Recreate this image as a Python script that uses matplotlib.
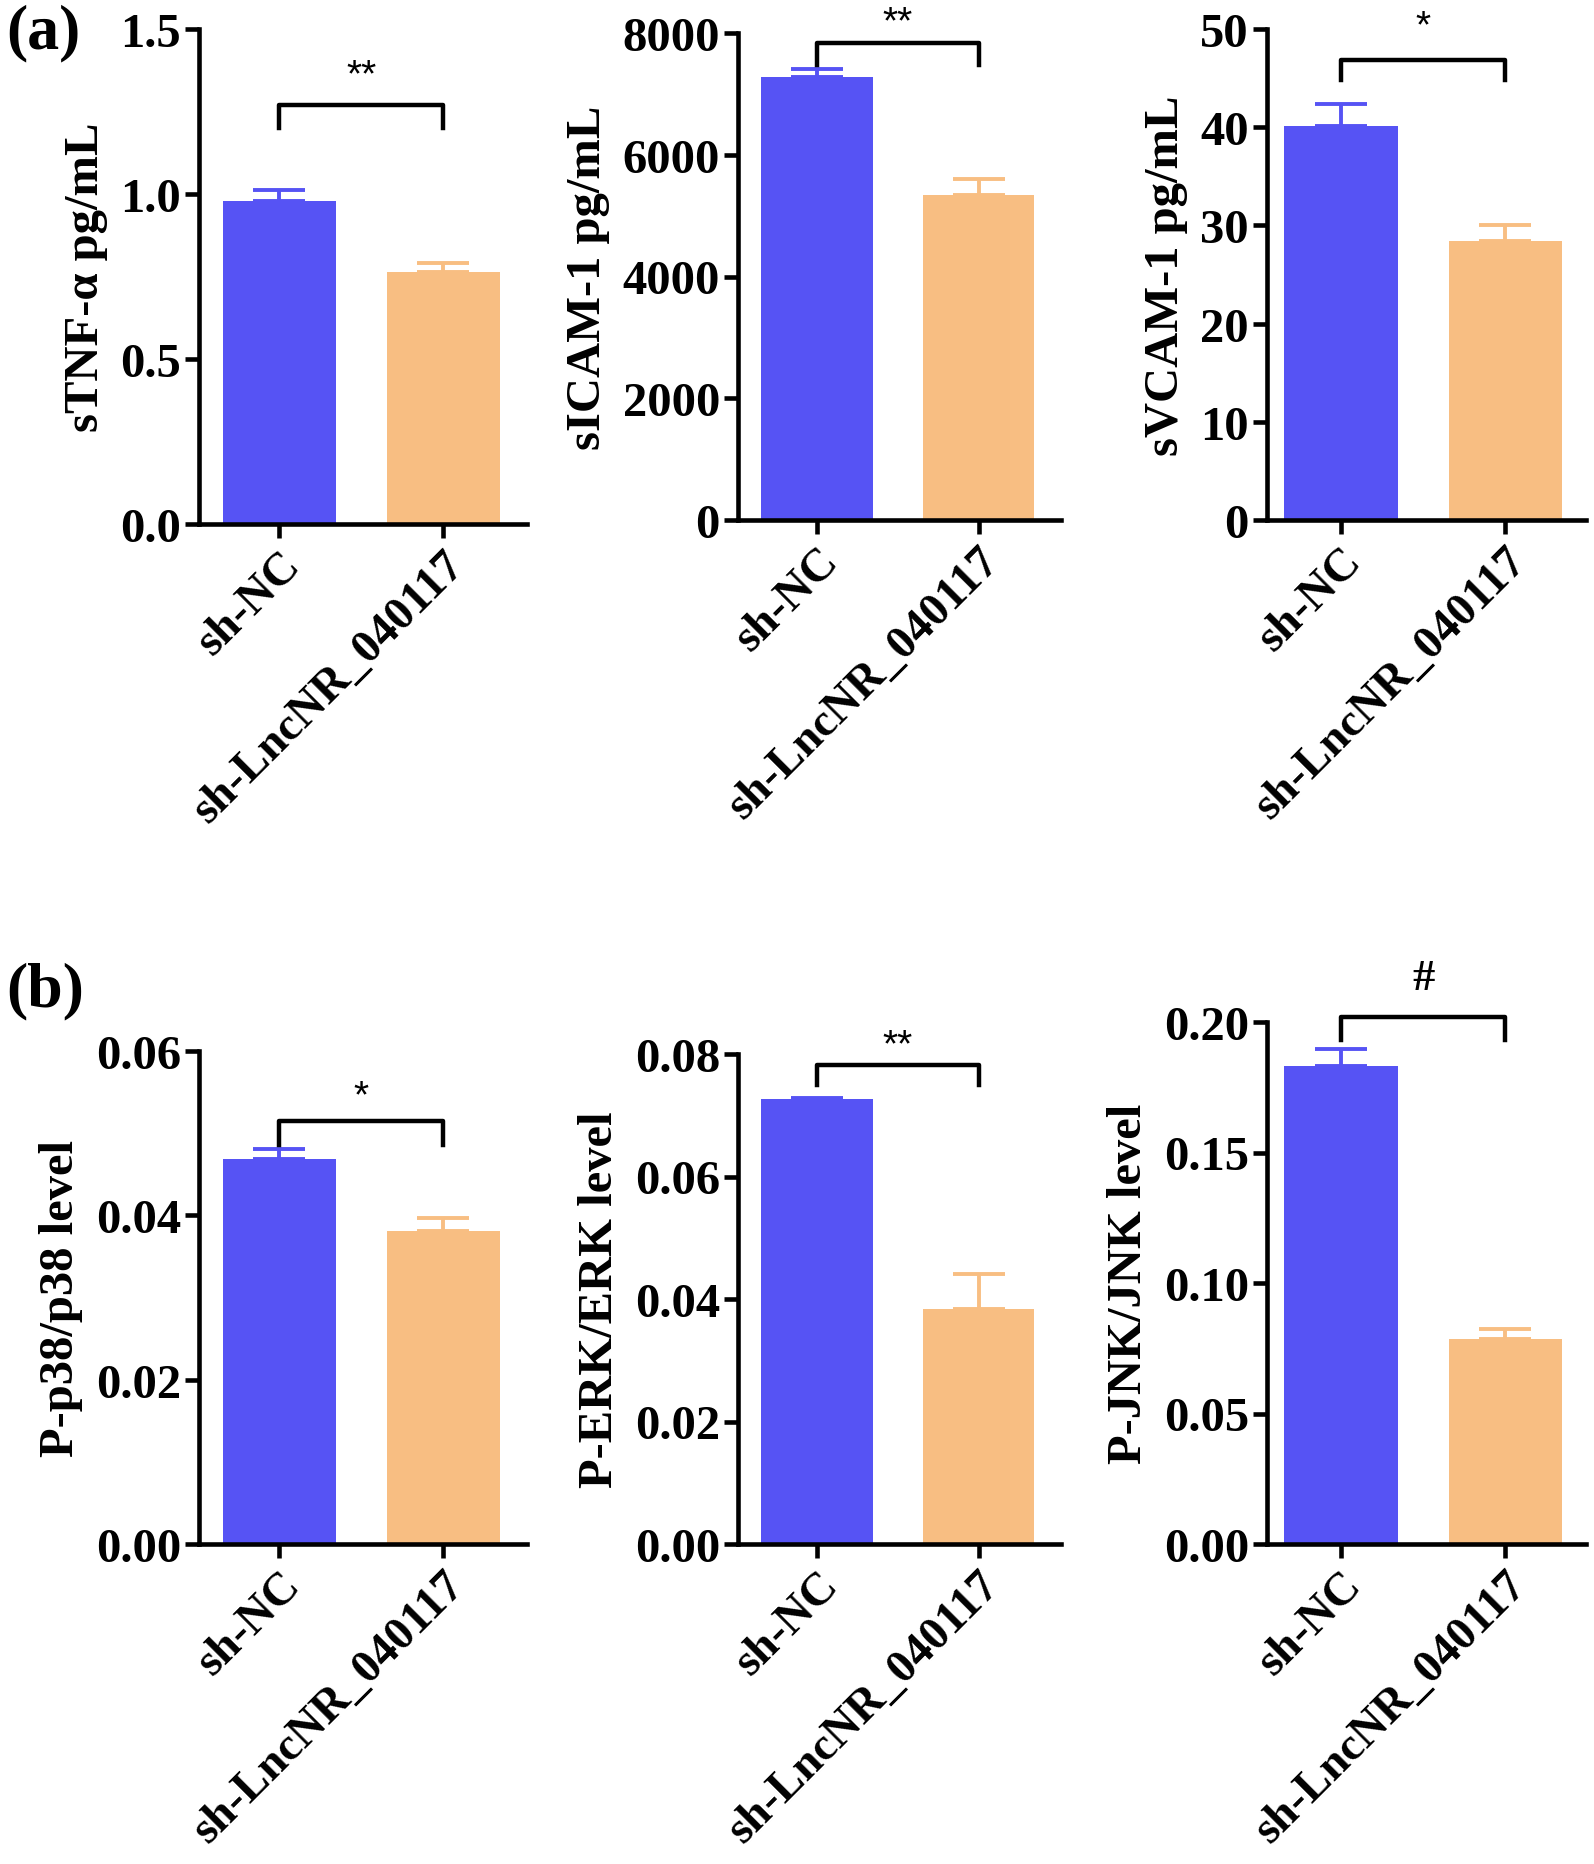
import matplotlib
matplotlib.use('Agg')
import matplotlib.pyplot as plt
import numpy as np

plt.rcParams['font.family'] = ['Liberation Serif', 'DejaVu Serif']
plt.rcParams['font.weight'] = 'bold'

groups = ['sh-NC', 'sh-LncNR_040117']
colors = ['#5653F4', '#F8BE82']

ylabels = ['sTNF-α pg/mL', 'sICAM-1 pg/mL', 'sVCAM-1 pg/mL',
           'P-p38/p38 level', 'P-ERK/ERK level', 'P-JNK/JNK level']

# bar means (sh-NC, sh-LncNR_040117)
tnf_mean = [0.98, 0.765]
icam_mean = [7270, 5340]
vcam_mean = [40.1, 28.4]
p38_mean = [0.0469, 0.0381]
erk_mean = [0.0726, 0.0383]
jnk_mean = [0.1831, 0.0786]

# upper error (SD)
tnf_err = [0.033, 0.025]
icam_err = [140, 260]
vcam_err = [2.3, 1.6]
p38_err = [0.0012, 0.0016]
erk_err = [0.0002, 0.0058]
jnk_err = [0.0064, 0.0036]

# axis ranges / ticks
ymax = [1.5, 8000, 50, 0.06, 0.08, 0.20]
yticks = [[0.0, 0.5, 1.0, 1.5],
          [0, 2000, 4000, 6000, 8000],
          [0, 10, 20, 30, 40, 50],
          [0.00, 0.02, 0.04, 0.06],
          [0.00, 0.02, 0.04, 0.06, 0.08],
          [0.00, 0.05, 0.10, 0.15, 0.20]]
ytick_labels = [['0.0', '0.5', '1.0', '1.5'],
                ['0', '2000', '4000', '6000', '8000'],
                ['0', '10', '20', '30', '40', '50'],
                ['0.00', '0.02', '0.04', '0.06'],
                ['0.00', '0.02', '0.04', '0.06', '0.08'],
                ['0.00', '0.05', '0.10', '0.15', '0.20']]

# significance brackets
sig_text = ['**', '**', '*', '*', '**', '#']
bracket_top = [1.27, 7840, 46.8, 0.0515, 0.0782, 0.2018]
bracket_leg = [1.20, 7470, 44.8, 0.0486, 0.0749, 0.193]
sig_y = [1.36, 8170, 50.3, 0.0545, 0.0814, 0.217]

means = [tnf_mean, icam_mean, vcam_mean, p38_mean, erk_mean, jnk_mean]
errs = [tnf_err, icam_err, vcam_err, p38_err, erk_err, jnk_err]

W, H = 1594, 1865
# axes rects in pixels: left, right, top, bottom
rects_px = [(199, 527, 30, 525), (738, 1061, 34, 521), (1267, 1586, 30, 521),
            (199, 527, 1052, 1545), (738, 1061, 1055, 1545), (1267, 1586, 1023, 1545)]
xlims = [(-0.49, 1.51), (-0.49, 1.51), (-0.45, 1.49),
         (-0.49, 1.51), (-0.49, 1.51), (-0.45, 1.49)]

fig = plt.figure(figsize=(W / 100, H / 100), dpi=100)

fs = 35
for i in range(6):
    l, r, t, b = rects_px[i]
    ax = fig.add_axes([l / W, 1 - b / H, (r - l) / W, (b - t) / H])
    x = np.arange(2)
    ax.bar(x, means[i], width=0.69, color=colors, zorder=2)
    for j in range(2):
        ax.errorbar(x[j], means[i][j], yerr=[[0], [errs[i][j]]], fmt='none',
                    ecolor=colors[j], elinewidth=2.8, capsize=19, capthick=2.8, zorder=1)
    ax.plot([0, 0, 1, 1], [bracket_leg[i], bracket_top[i], bracket_top[i], bracket_leg[i]],
            color='k', lw=3.2, clip_on=False)
    if sig_text[i] == '#':
        ax.text(0.5, sig_y[i], sig_text[i], ha='center', va='center', fontsize=32,
                fontweight='bold', clip_on=False)
    else:
        ax.text(0.5, sig_y[i], sig_text[i], ha='center', va='center', fontsize=28,
                family=['Liberation Sans'], fontweight='normal', clip_on=False)
    ax.set_xlim(*xlims[i])
    ax.set_ylim(0, ymax[i])
    ax.set_yticks(yticks[i])
    ax.set_yticklabels(ytick_labels[i], fontsize=fs, fontweight='bold')
    ax.set_xticks(x)
    ax.set_xticklabels(groups, fontsize=33.5, fontweight='bold', rotation=45,
                       ha='right', va='top', rotation_mode='anchor')
    ax.set_ylabel(ylabels[i], fontsize=fs, fontweight='bold', labelpad=9)
    ax.spines['top'].set_visible(False)
    ax.spines['right'].set_visible(False)
    ax.spines['left'].set_linewidth(3.3)
    ax.spines['bottom'].set_linewidth(3.3)
    ax.tick_params(axis='both', width=3.3, length=10, pad=3)
    ax.tick_params(axis='x', pad=4)

fig.text(6 / W, 1 - 4 / H, '(a)', fontsize=46, fontweight='bold', va='top', ha='left')
fig.text(6 / W, 1 - 962 / H, '(b)', fontsize=46, fontweight='bold', va='top', ha='left')

plt.savefig('out.png', dpi=100)
